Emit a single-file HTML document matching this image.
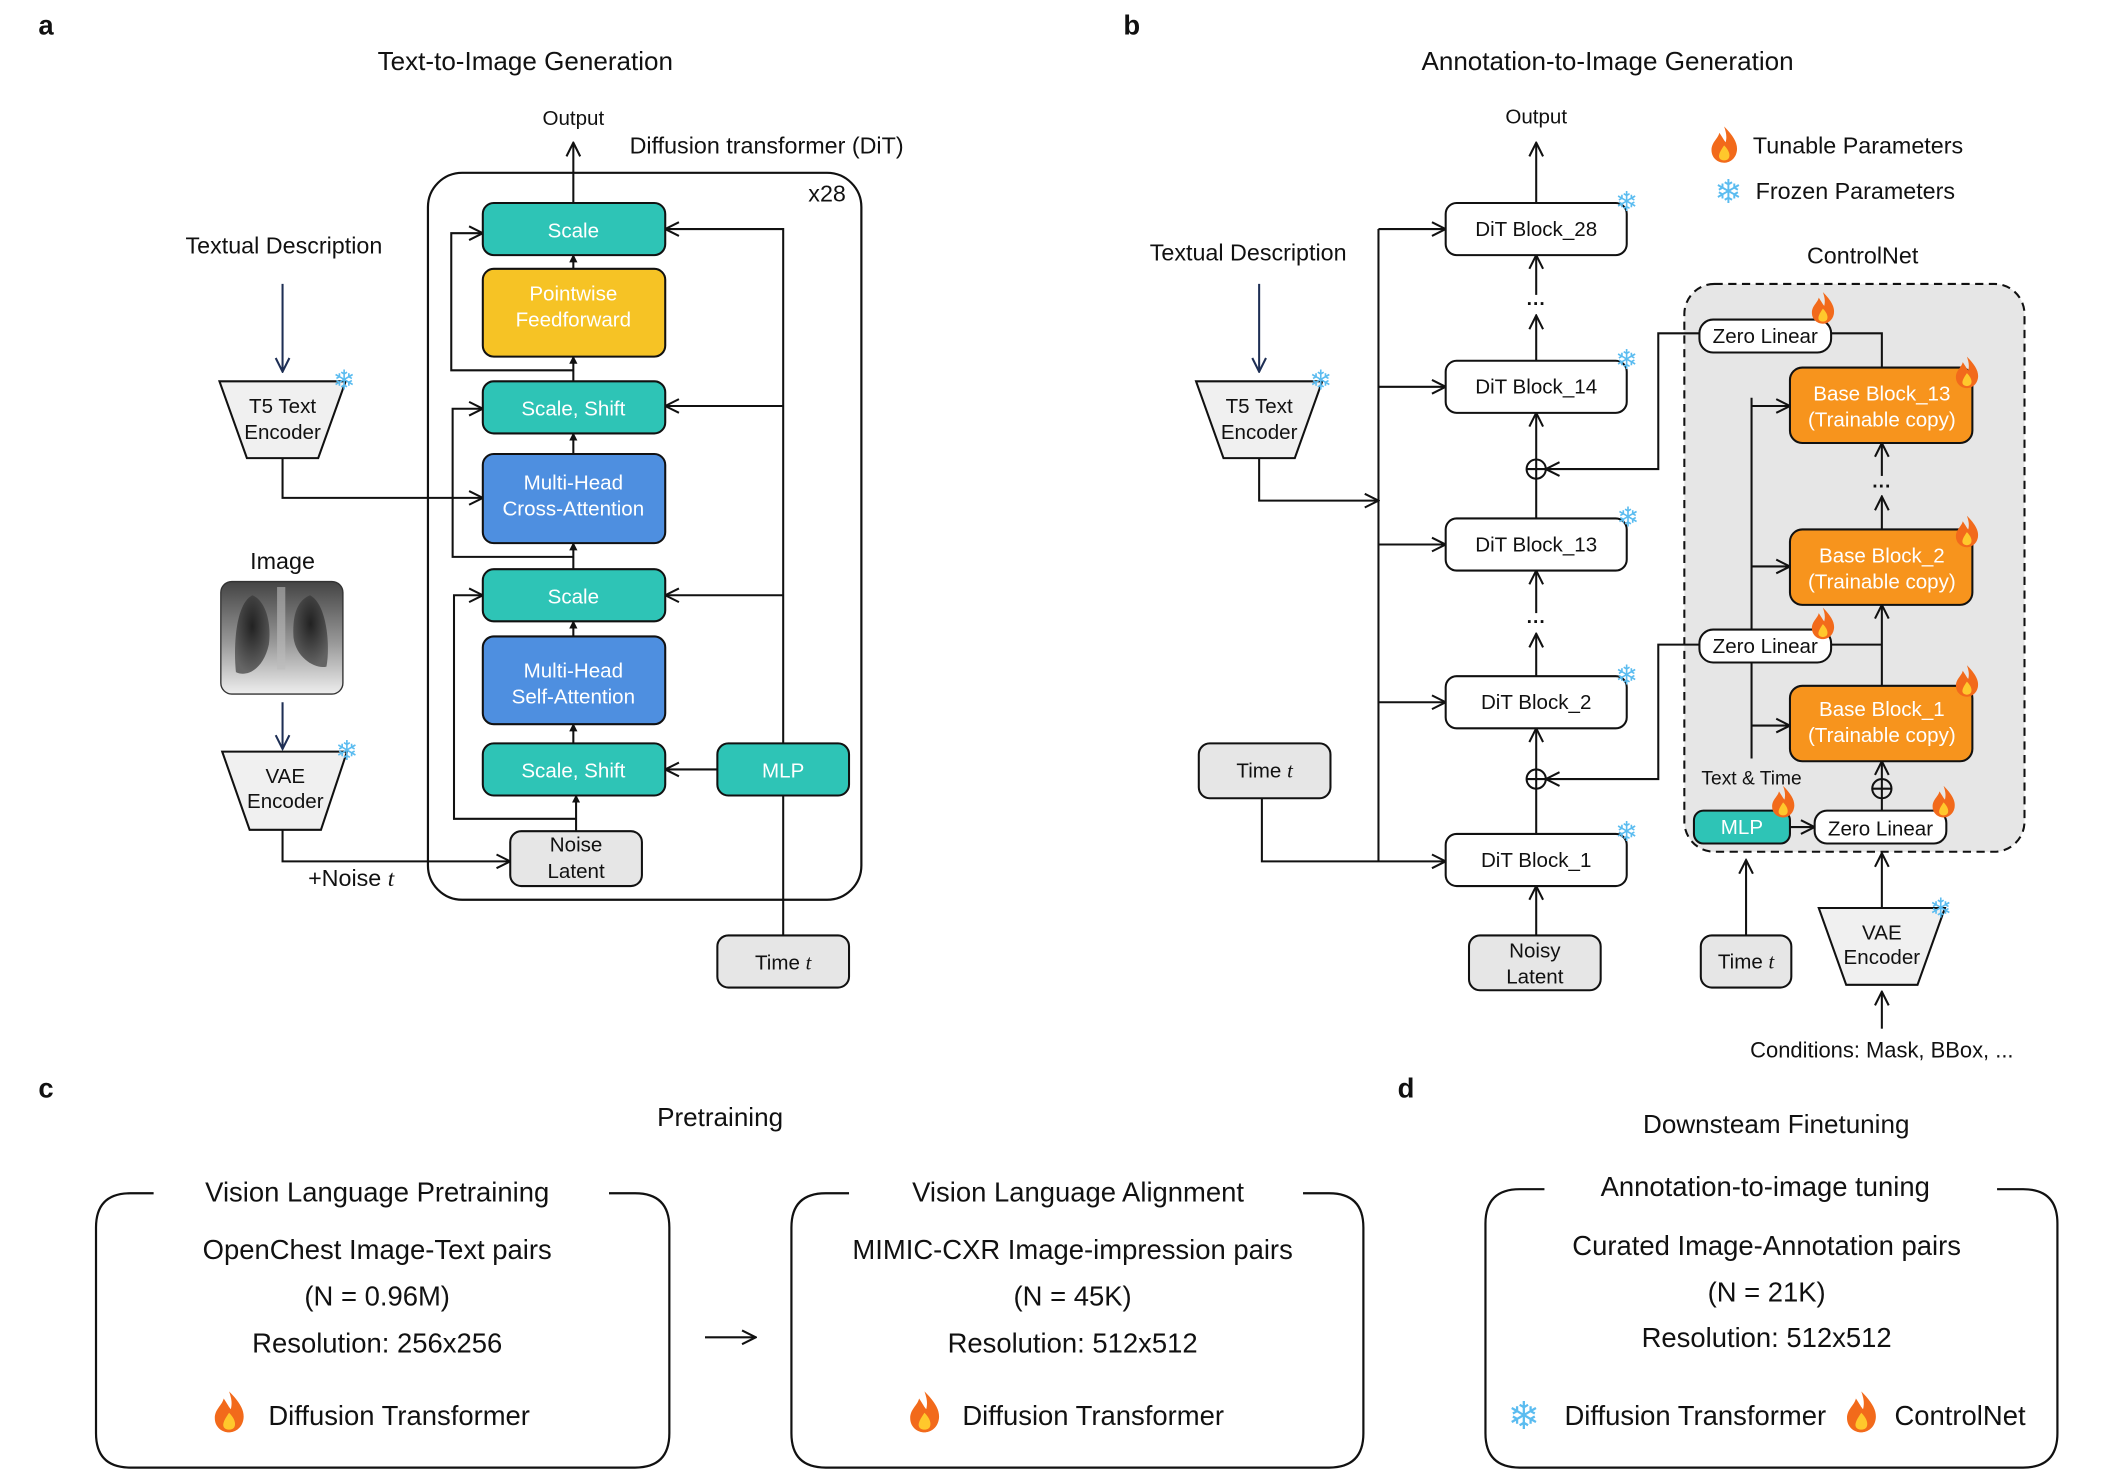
<!DOCTYPE html>
<html><head><meta charset="utf-8"><style>
html,body{margin:0;padding:0;background:#fff;}
svg{display:block;}
text{font-family:"Liberation Sans","DejaVu Sans",sans-serif;}
</style></head><body>
<svg width="2126" height="1475" viewBox="0 0 1550 1075.4" preserveAspectRatio="none" xmlns="http://www.w3.org/2000/svg">
<defs>
<marker id="ar" viewBox="0 0 12 12" refX="11" refY="6" markerWidth="12" markerHeight="12" markerUnits="userSpaceOnUse" orient="auto">
<path d="M1,1 L11,6 L1,11" fill="none" stroke="#111" stroke-width="1.5"/></marker>
<marker id="arn" viewBox="0 0 12 12" refX="11" refY="6" markerWidth="12" markerHeight="12" markerUnits="userSpaceOnUse" orient="auto">
<path d="M1,1 L11,6 L1,11" fill="none" stroke="#1e2f55" stroke-width="1.5"/></marker>
<marker id="sm" viewBox="0 0 8 8" refX="7" refY="4" markerWidth="6" markerHeight="6" markerUnits="userSpaceOnUse" orient="auto">
<path d="M0,0 L8,4 L0,8z" fill="#111"/></marker>
<g id="fire"><path d="M0,-12 C6,-6 9,-1 8,4 C7,9 3,11 0,11 C-4,11 -8,8 -8,3 C-8,-2 -4,-4 -3,-8 C-1,-5 0,-3 1,-2 C2,-6 1,-9 0,-12z" fill="#f26a1b"/><path d="M0,0 C3,3 4,6 3,8 C2,10 -2,10 -3,8 C-4,6 -2,3 0,0z" fill="#ffc82c"/></g>
<linearGradient id="xr" x1="0" y1="0" x2="0" y2="1"><stop offset="0" stop-color="#444"/><stop offset="0.55" stop-color="#999"/><stop offset="1" stop-color="#eee"/></linearGradient>
<radialGradient id="lung" cx="0.5" cy="0.4" r="0.6"><stop offset="0" stop-color="#111"/><stop offset="1" stop-color="#555"/></radialGradient>
</defs>
<g font-size="15" fill="#111" stroke="none">
<!-- Panel a -->
<text x="28" y="25" font-size="20" font-weight="bold">a</text>
<text x="383" y="51" font-size="19" text-anchor="middle">Text-to-Image Generation</text>
<text x="418" y="91" text-anchor="middle">Output</text>
<text x="459" y="112" font-size="17">Diffusion transformer (DiT)</text>
<rect x="312" y="126" width="316" height="530" rx="25" fill="none" stroke="#111" stroke-width="1.6"/>
<text x="603" y="147" font-size="17" text-anchor="middle">x28</text>
<g stroke="#111" stroke-width="1.5" fill="none">
<line x1="418" y1="148" x2="418" y2="104" marker-end="url(#ar)"/>
<line x1="418" y1="196" x2="418" y2="186" marker-end="url(#sm)"/>
<line x1="418" y1="278" x2="418" y2="260" marker-end="url(#sm)"/>
<line x1="418" y1="331" x2="418" y2="316" marker-end="url(#sm)"/>
<line x1="418" y1="415" x2="418" y2="396" marker-end="url(#sm)"/>
<line x1="418" y1="464" x2="418" y2="453" marker-end="url(#sm)"/>
<line x1="418" y1="542" x2="418" y2="528" marker-end="url(#sm)"/>
<line x1="420" y1="606" x2="420" y2="580" marker-end="url(#sm)"/>
<polyline points="418,270 329,270 329,170 352,170" marker-end="url(#ar)"/>
<polyline points="418,406 330,406 330,298 352,298" marker-end="url(#ar)"/>
<polyline points="420,597 331,597 331,434 352,434" marker-end="url(#ar)"/>
<polyline points="571,542 571,167 485,167" marker-end="url(#ar)"/>
<line x1="571" y1="296" x2="485" y2="296" marker-end="url(#ar)"/>
<line x1="571" y1="434" x2="485" y2="434" marker-end="url(#ar)"/>
<line x1="523" y1="561" x2="485" y2="561" marker-end="url(#ar)"/>
<line x1="571" y1="580" x2="571" y2="682"/>
<polyline points="206,334 206,363 352,363" marker-end="url(#ar)"/>
<polyline points="206,605 206,628 372,628" marker-end="url(#ar)"/>
<line x1="206" y1="207" x2="206" y2="271" stroke="#1e2f55" marker-end="url(#arn)"/>
<line x1="206" y1="512" x2="206" y2="546" stroke="#1e2f55" marker-end="url(#arn)"/>
</g>
<g stroke="#111" stroke-width="1.5">
<rect x="352" y="148" width="133" height="38" rx="8" fill="#2ec4b6"/>
<rect x="352" y="196" width="133" height="64" rx="8" fill="#f6c325"/>
<rect x="352" y="278" width="133" height="38" rx="8" fill="#2ec4b6"/>
<rect x="352" y="331" width="133" height="65" rx="8" fill="#4e8fe0"/>
<rect x="352" y="415" width="133" height="38" rx="8" fill="#2ec4b6"/>
<rect x="352" y="464" width="133" height="64" rx="8" fill="#4e8fe0"/>
<rect x="352" y="542" width="133" height="38" rx="8" fill="#2ec4b6"/>
<rect x="523" y="542" width="96" height="38" rx="8" fill="#2ec4b6"/>
<rect x="372" y="606" width="96" height="40" rx="8" fill="#e6e6e6"/>
<rect x="523" y="682" width="96" height="38" rx="8" fill="#e6e6e6"/>
<polygon points="160,278 252,278 232,334 180,334" fill="#f0f0f0"/>
<polygon points="162,548 253,548 234,605 182,605" fill="#f0f0f0"/>
</g>
<g fill="#fff" text-anchor="middle">
<text x="418" y="173">Scale</text>
<text x="418" y="219">Pointwise</text><text x="418" y="238">Feedforward</text>
<text x="418" y="303">Scale, Shift</text>
<text x="418" y="357">Multi-Head</text><text x="418" y="376">Cross-Attention</text>
<text x="418" y="440">Scale</text>
<text x="418" y="494">Multi-Head</text><text x="418" y="513">Self-Attention</text>
<text x="418" y="567">Scale, Shift</text>
<text x="571" y="567">MLP</text>
</g>
<g text-anchor="middle">
<text x="420" y="621">Noise</text><text x="420" y="640">Latent</text>
<text x="571" y="707">Time <tspan font-family="Liberation Serif" font-style="italic">t</tspan></text>
<text x="207" y="185" font-size="17">Textual Description</text>
<text x="206" y="301">T5 Text</text><text x="206" y="320">Encoder</text>
<text x="206" y="415" font-size="17">Image</text>
<text x="208" y="571">VAE</text><text x="208" y="589">Encoder</text>
<text x="256" y="646" font-size="17">+Noise <tspan font-family="Liberation Serif" font-style="italic">t</tspan></text>
</g>
<rect x="161" y="424" width="89" height="82" rx="8" fill="url(#xr)" stroke="#333" stroke-width="1"/>
<path d="M184,434 C172,440 170,470 172,490 C180,494 192,488 196,470 C198,455 194,438 184,434z" fill="url(#lung)" opacity="0.85"/>
<path d="M226,434 C238,440 241,470 238,486 C230,488 216,480 214,465 C213,450 216,438 226,434z" fill="url(#lung)" opacity="0.85"/>
<rect x="202" y="428" width="6" height="60" fill="#bbb" opacity="0.6"/>
<g font-size="20" fill="#5bbcf0" text-anchor="middle" font-family="DejaVu Sans">
<text x="251" y="284">❄</text>
<text x="253" y="554">❄</text>
</g>

<!-- Panel b -->
<text x="819" y="25" font-size="20" font-weight="bold">b</text>
<text x="1172" y="51" font-size="19" text-anchor="middle">Annotation-to-Image Generation</text>
<text x="1120" y="90" text-anchor="middle">Output</text>
<g transform="translate(1257,106) scale(1.15)"><use href="#fire"/></g>
<text x="1278" y="112" font-size="17">Tunable Parameters</text>
<text x="1260" y="148" font-size="24" fill="#5bbcf0" text-anchor="middle" font-family="DejaVu Sans">❄</text>
<text x="1280" y="145" font-size="17">Frozen Parameters</text>
<text x="1358" y="192" font-size="17" text-anchor="middle">ControlNet</text>
<rect x="1228" y="207" width="248" height="414" rx="22" fill="#e6e6e6" stroke="#111" stroke-width="1.5" stroke-dasharray="6,4"/>
<g stroke="#111" stroke-width="1.5" fill="none">
<line x1="1120" y1="148" x2="1120" y2="104" marker-end="url(#ar)"/>
<line x1="1120" y1="215" x2="1120" y2="186" marker-end="url(#ar)"/>
<line x1="1120" y1="263" x2="1120" y2="230" marker-end="url(#ar)"/>
<line x1="1120" y1="378" x2="1120" y2="301" marker-end="url(#ar)"/>
<line x1="1120" y1="447" x2="1120" y2="416" marker-end="url(#ar)"/>
<line x1="1120" y1="493" x2="1120" y2="462" marker-end="url(#ar)"/>
<line x1="1120" y1="608" x2="1120" y2="531" marker-end="url(#ar)"/>
<line x1="1120" y1="682" x2="1120" y2="646" marker-end="url(#ar)"/>
<circle cx="1120" cy="342" r="7"/><line x1="1113" y1="342" x2="1127" y2="342"/>
<circle cx="1120" cy="568" r="7"/><line x1="1113" y1="568" x2="1127" y2="568"/>
<line x1="1005" y1="167" x2="1005" y2="628"/>
<line x1="1005" y1="167" x2="1054" y2="167" marker-end="url(#ar)"/>
<line x1="1005" y1="282" x2="1054" y2="282" marker-end="url(#ar)"/>
<line x1="1005" y1="397" x2="1054" y2="397" marker-end="url(#ar)"/>
<line x1="1005" y1="512" x2="1054" y2="512" marker-end="url(#ar)"/>
<polyline points="920,582 920,628 1054,628" marker-end="url(#ar)"/>
<polyline points="918,334 918,365 1005,365" marker-end="url(#ar)"/>
<line x1="918" y1="207" x2="918" y2="271" stroke="#1e2f55" marker-end="url(#arn)"/>
<polyline points="1239,243 1209,243 1209,342 1127,342" marker-end="url(#ar)"/>
<polyline points="1335,243 1372,243 1372,268"/>
<polyline points="1239,470 1209,470 1209,568 1127,568" marker-end="url(#ar)"/>
<polyline points="1335,470 1372,470"/>
<line x1="1372" y1="386" x2="1372" y2="362" marker-end="url(#ar)"/>
<line x1="1372" y1="347" x2="1372" y2="323" marker-end="url(#ar)"/>
<line x1="1372" y1="500" x2="1372" y2="441" marker-end="url(#ar)"/>
<line x1="1277" y1="290" x2="1277" y2="553"/>
<line x1="1277" y1="296" x2="1305" y2="296" marker-end="url(#ar)"/>
<line x1="1277" y1="413" x2="1305" y2="413" marker-end="url(#ar)"/>
<line x1="1277" y1="529" x2="1305" y2="529" marker-end="url(#ar)"/>
<circle cx="1372" cy="575" r="7"/><line x1="1365" y1="575" x2="1379" y2="575"/><line x1="1372" y1="568" x2="1372" y2="591"/>
<line x1="1372" y1="568" x2="1372" y2="555" marker-end="url(#ar)"/>
<line x1="1305" y1="603" x2="1323" y2="603" marker-end="url(#ar)"/>
<line x1="1273" y1="682" x2="1273" y2="627" marker-end="url(#ar)"/>
<line x1="1372" y1="662" x2="1372" y2="622" marker-end="url(#ar)"/>
<line x1="1372" y1="750" x2="1372" y2="723" marker-end="url(#ar)"/>
</g>
<g stroke="#111" stroke-width="1.5">
<rect x="1054" y="148" width="132" height="38" rx="8" fill="#fff"/>
<rect x="1054" y="263" width="132" height="38" rx="8" fill="#fff"/>
<rect x="1054" y="378" width="132" height="38" rx="8" fill="#fff"/>
<rect x="1054" y="493" width="132" height="38" rx="8" fill="#fff"/>
<rect x="1054" y="608" width="132" height="38" rx="8" fill="#fff"/>
<rect x="1071" y="682" width="96" height="40" rx="8" fill="#e6e6e6"/>
<rect x="874" y="542" width="96" height="40" rx="8" fill="#e6e6e6"/>
<polygon points="872,278 964,278 944,334 892,334" fill="#f0f0f0"/>
<rect x="1239" y="233" width="96" height="24" rx="10" fill="#fff"/>
<rect x="1239" y="459" width="96" height="24" rx="10" fill="#fff"/>
<rect x="1305" y="268" width="133" height="55" rx="9" fill="#f7941d"/>
<rect x="1305" y="386" width="133" height="55" rx="9" fill="#f7941d"/>
<rect x="1305" y="500" width="133" height="55" rx="9" fill="#f7941d"/>
<rect x="1235" y="591" width="70" height="24" rx="7" fill="#2ec4b6"/>
<rect x="1323" y="591" width="96" height="24" rx="9" fill="#fff"/>
<rect x="1240" y="682" width="66" height="38" rx="8" fill="#e6e6e6"/>
<polygon points="1326,662 1418,662 1398,718 1346,718" fill="#f0f0f0"/>
</g>
<g text-anchor="middle">
<text x="1120" y="172">DiT Block_28</text>
<text x="1120" y="287">DiT Block_14</text>
<text x="1120" y="402">DiT Block_13</text>
<text x="1120" y="517">DiT Block_2</text>
<text x="1120" y="632">DiT Block_1</text>
<text x="1120" y="226" font-size="14" font-weight="bold">···</text>
<text x="1120" y="458" font-size="14" font-weight="bold">···</text>
<text x="1372" y="359" font-size="14" font-weight="bold">···</text>
<text x="1119" y="698">Noisy</text><text x="1119" y="717">Latent</text>
<text x="922" y="567">Time <tspan font-family="Liberation Serif" font-style="italic">t</tspan></text>
<text x="910" y="190" font-size="17">Textual Description</text>
<text x="918" y="301">T5 Text</text><text x="918" y="320">Encoder</text>
<text x="1287" y="250">Zero Linear</text>
<text x="1287" y="476">Zero Linear</text>
<text x="1371" y="609">Zero Linear</text>
<text x="1277" y="572" font-size="14">Text &amp; Time</text>
<text x="1273" y="706">Time <tspan font-family="Liberation Serif" font-style="italic">t</tspan></text>
<text x="1372" y="685">VAE</text><text x="1372" y="703">Encoder</text>
<text x="1372" y="771" font-size="16">Conditions: Mask, BBox, ...</text>
</g>
<g fill="#fff" text-anchor="middle">
<text x="1372" y="292">Base Block_13</text><text x="1372" y="311">(Trainable copy)</text>
<text x="1372" y="410">Base Block_2</text><text x="1372" y="429">(Trainable copy)</text>
<text x="1372" y="522">Base Block_1</text><text x="1372" y="541">(Trainable copy)</text>
<text x="1270" y="608">MLP</text>
</g>
<g font-size="20" fill="#5bbcf0" text-anchor="middle" font-family="DejaVu Sans">
<text x="963" y="284">❄</text>
<text x="1186" y="154">❄</text><text x="1186" y="269">❄</text><text x="1187" y="384">❄</text>
<text x="1186" y="499">❄</text><text x="1186" y="613">❄</text><text x="1415" y="669">❄</text>
</g>
<use href="#fire" x="1329" y="225"/>
<use href="#fire" x="1434" y="272"/>
<use href="#fire" x="1434" y="388"/>
<use href="#fire" x="1329" y="455"/>
<use href="#fire" x="1434" y="497"/>
<use href="#fire" x="1300" y="585"/>
<use href="#fire" x="1417" y="585"/>

<!-- Panel c -->
<text x="28" y="800" font-size="20" font-weight="bold">c</text>
<text x="525" y="821" font-size="19" text-anchor="middle">Pretraining</text>
<g fill="none" stroke="#111" stroke-width="1.6">
<path d="M112,870 L95,870 Q70,870 70,895 L70,1045 Q70,1070 95,1070 L463,1070 Q488,1070 488,1045 L488,895 Q488,870 463,870 L444,870"/>
<path d="M619,870 L602,870 Q577,870 577,895 L577,1045 Q577,1070 602,1070 L969,1070 Q994,1070 994,1045 L994,895 Q994,870 969,870 L950,870"/>
<path d="M1126,867 L1108,867 Q1083,867 1083,892 L1083,1045 Q1083,1070 1108,1070 L1475,1070 Q1500,1070 1500,1045 L1500,892 Q1500,867 1475,867 L1456,867"/>
<line x1="514" y1="975" x2="551" y2="975" marker-end="url(#ar)"/>
</g>
<g font-size="20" text-anchor="middle">
<text x="275" y="876">Vision Language Pretraining</text>
<text x="275" y="918">OpenChest Image-Text pairs</text>
<text x="275" y="952">(N = 0.96M)</text>
<text x="275" y="986">Resolution: 256x256</text>
<text x="291" y="1039">Diffusion Transformer</text>
<text x="786" y="876">Vision Language Alignment</text>
<text x="782" y="918">MIMIC-CXR Image-impression pairs</text>
<text x="782" y="952">(N = 45K)</text>
<text x="782" y="986">Resolution: 512x512</text>
<text x="797" y="1039">Diffusion Transformer</text>
</g>
<g transform="translate(167,1030) scale(1.3)"><use href="#fire"/></g>
<g transform="translate(674,1030) scale(1.3)"><use href="#fire"/></g>

<!-- Panel d -->
<text x="1019" y="800" font-size="20" font-weight="bold">d</text>
<text x="1295" y="826" font-size="19" text-anchor="middle">Downsteam Finetuning</text>
<g font-size="20" text-anchor="middle">
<text x="1287" y="872">Annotation-to-image tuning</text>
<text x="1288" y="915">Curated Image-Annotation pairs</text>
<text x="1288" y="949">(N = 21K)</text>
<text x="1288" y="982">Resolution: 512x512</text>
<text x="1236" y="1039">Diffusion Transformer</text>
<text x="1429" y="1039">ControlNet</text>
</g>
<text x="1111" y="1042" font-size="28" fill="#5bbcf0" text-anchor="middle" font-family="DejaVu Sans">❄</text>
<g transform="translate(1357,1030) scale(1.3)"><use href="#fire"/></g>
</g>
</svg>
</body></html>
